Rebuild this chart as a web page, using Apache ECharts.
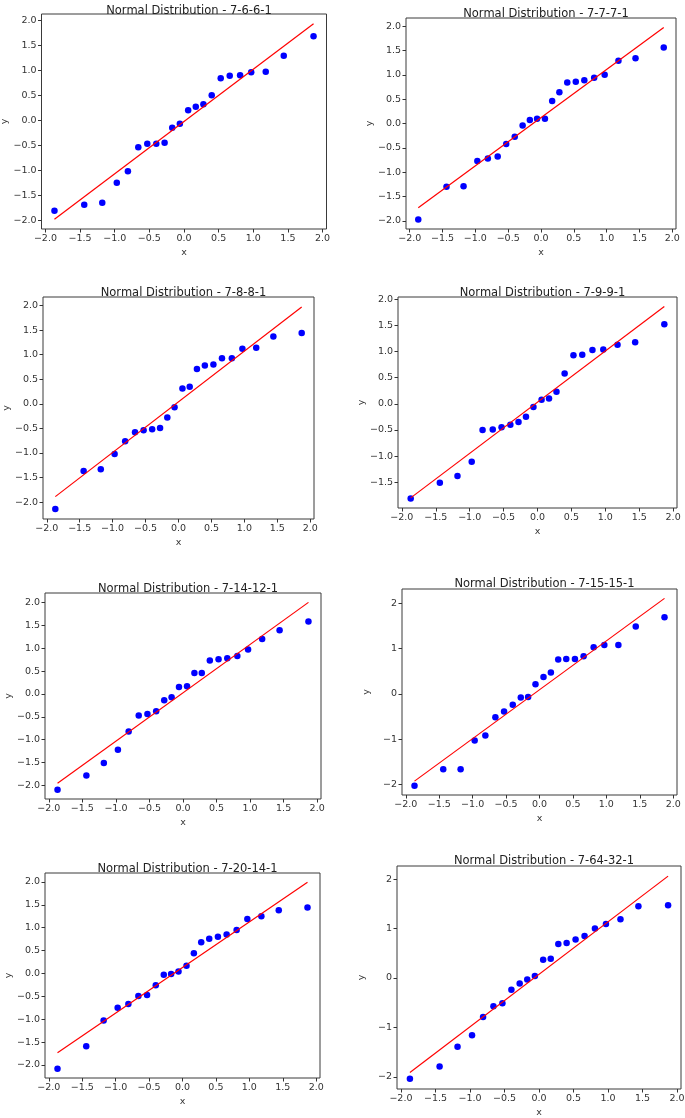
<!DOCTYPE html>
<html>
<head>
<meta charset="utf-8">
<script src="https://cdn.jsdelivr.net/npm/echarts@6/dist/echarts.min.js"></script>
<style>
  html, body { margin: 0; padding: 0; background: #fff; }
  #main { width: 685px; height: 1118px; }
</style>
</head>
<body>
<div id="main"></div>
<script>
// theoretical quantiles (x) shared by every panel
const xq = [-1.87, -1.44, -1.18, -0.97, -0.81, -0.66, -0.53, -0.40, -0.28, -0.17, -0.06,
  0.06, 0.17, 0.28, 0.40, 0.53, 0.66, 0.81, 0.97, 1.18, 1.44, 1.87];

const titles = ['7-6-6-1', '7-7-7-1', '7-8-8-1', '7-9-9-1', '7-14-12-1', '7-15-15-1', '7-20-14-1', '7-64-32-1'];

// ordered sample values (y) per panel
const y_7_6_6_1 = [-1.81, -1.69, -1.65, -1.25, -1.02, -0.54, -0.47, -0.47, -0.45, -0.15, -0.07,
  0.20, 0.27, 0.32, 0.50, 0.84, 0.89, 0.90, 0.96, 0.97, 1.29, 1.68];
const y_7_7_7_1 = [-1.97, -1.30, -1.29, -0.77, -0.72, -0.68, -0.42, -0.27, -0.04, 0.07, 0.10,
  0.10, 0.46, 0.64, 0.84, 0.86, 0.89, 0.94, 1.00, 1.29, 1.34, 1.56];
const y_7_8_8_1 = [-2.14, -1.37, -1.33, -1.02, -0.76, -0.58, -0.54, -0.52, -0.49, -0.28, -0.07,
  0.31, 0.35, 0.71, 0.78, 0.80, 0.93, 0.93, 1.12, 1.14, 1.37, 1.44];
const y_7_9_9_1 = [-1.81, -1.51, -1.38, -1.11, -0.50, -0.49, -0.45, -0.40, -0.35, -0.25, -0.06,
  0.08, 0.10, 0.23, 0.58, 0.93, 0.94, 1.03, 1.04, 1.13, 1.18, 1.52];
const y_7_14_12_1 = [-2.09, -1.78, -1.51, -1.22, -0.82, -0.47, -0.44, -0.38, -0.14, -0.07, 0.15,
  0.17, 0.46, 0.46, 0.73, 0.76, 0.78, 0.83, 0.97, 1.20, 1.39, 1.58];
const y_7_15_15_1 = [-2.03, -1.67, -1.67, -1.03, -0.92, -0.52, -0.39, -0.24, -0.08, -0.07, 0.21,
  0.37, 0.47, 0.76, 0.77, 0.77, 0.83, 1.03, 1.08, 1.08, 1.49, 1.69];
const y_7_20_14_1 = [-2.08, -1.59, -1.03, -0.75, -0.67, -0.49, -0.47, -0.26, -0.03, -0.01, 0.04,
  0.17, 0.44, 0.68, 0.76, 0.80, 0.85, 0.95, 1.19, 1.25, 1.38, 1.44];
const y_7_64_32_1 = [-2.04, -1.79, -1.39, -1.16, -0.79, -0.57, -0.51, -0.24, -0.11, -0.03, 0.04,
  0.37, 0.39, 0.69, 0.71, 0.78, 0.85, 1.00, 1.09, 1.19, 1.45, 1.47];

const panelY = [y_7_6_6_1, y_7_7_7_1, y_7_8_8_1, y_7_9_9_1, y_7_14_12_1, y_7_15_15_1, y_7_20_14_1, y_7_64_32_1];

// fitted line values at x = -1.87 and x = 1.87
const lineStart = [-1.98, -1.73, -1.89, -1.80, -1.95, -1.93, -1.73, -1.91];
const lineEnd = [1.93, 1.97, 1.97, 1.86, 2.00, 2.11, 1.99, 2.06];

const xTicks = [-2, -1.5, -1, -0.5, 0, 0.5, 1, 1.5, 2];
const yStep = [0.5, 0.5, 0.5, 0.5, 0.5, 1, 0.5, 1];

// plot boxes [left, top, width, height]
const boxes = [
  [41.5, 14, 285, 215],
  [406, 18, 270, 211],
  [43, 297, 271, 222],
  [398, 297, 279, 211],
  [45, 593, 276, 206],
  [402, 589, 275, 206],
  [45, 873, 275, 205],
  [397, 866, 284, 223]
];
const titleTop = [0, 3, 282, 282, 578, 573, 858, 850];

const fmt = (v, step) => {
  const s = step < 1 ? v.toFixed(1) : v.toFixed(0);
  return s.replace('-', '\u2212');
};

const font = 'DejaVu Sans';
const grid = [], xAxis = [], yAxis = [], series = [], title = [];

panelY.forEach((ys, i) => {
  const b = boxes[i];
  grid.push({
    left: b[0], top: b[1], width: b[2], height: b[3],
    show: true, borderColor: '#3a3a3a', borderWidth: 1,
    backgroundColor: 'transparent', outerBoundsMode: 'none'
  });
  title.push({
    text: 'Normal Distribution - ' + titles[i],
    left: b[0] + b[2] / 2, top: titleTop[i], textAlign: 'center',
    textStyle: { fontFamily: font, fontSize: 11.5, fontWeight: 'normal', color: '#222' }
  });

  // matplotlib-like 5% margins
  const xmin = xq[0], xmax = xq[xq.length - 1];
  const xm = (xmax - xmin) * 0.05;
  const lo = Math.min(...ys, lineStart[i], lineEnd[i]);
  const hi = Math.max(...ys, lineStart[i], lineEnd[i]);
  const ym = (hi - lo) * 0.05;
  const yMin = lo - ym, yMax = hi + ym;
  const st = yStep[i];
  const yTicks = [];
  for (let k = Math.ceil(yMin / st); k * st <= yMax; k++) yTicks.push(k * st);

  xAxis.push({
    type: 'value', gridIndex: i, min: xmin - xm, max: xmax + xm,
    name: 'x', nameLocation: 'middle', nameGap: 19,
    nameTextStyle: { fontFamily: font, fontSize: 9.5, color: '#333' },
    axisLine: { show: false, onZero: false },
    axisTick: { show: true, inside: false, length: 3.5, customValues: xTicks, lineStyle: { color: '#333' } },
    axisLabel: {
      customValues: xTicks, margin: 5, fontFamily: font, fontSize: 9.5, color: '#333',
      formatter: v => fmt(v, 0.5)
    },
    splitLine: { show: false }
  });
  yAxis.push({
    type: 'value', gridIndex: i, min: yMin, max: yMax,
    name: 'y', nameLocation: 'middle', nameGap: 30,
    nameTextStyle: { fontFamily: font, fontSize: 9.5, color: '#333' },
    axisLine: { show: false, onZero: false },
    axisTick: { show: true, inside: false, length: 3.5, customValues: yTicks, lineStyle: { color: '#333' } },
    axisLabel: {
      customValues: yTicks, margin: 5, fontFamily: font, fontSize: 9.5, color: '#333',
      formatter: v => fmt(v, st)
    },
    splitLine: { show: false }
  });

  series.push({
    type: 'scatter', xAxisIndex: i, yAxisIndex: i,
    data: xq.map((x, j) => [x, ys[j]]),
    symbolSize: 6.5, itemStyle: { color: '#0000ff', opacity: 1 },
    silent: true
  });
  series.push({
    type: 'line', xAxisIndex: i, yAxisIndex: i,
    data: [[xmin, lineStart[i]], [xmax, lineEnd[i]]],
    showSymbol: false, symbol: 'none',
    lineStyle: { color: '#ff0000', width: 1.2 },
    silent: true
  });
});

const chart = echarts.init(document.getElementById('main'), null, { renderer: 'canvas' });
chart.setOption({
  animation: false,
  backgroundColor: '#fff',
  title: title,
  grid: grid,
  xAxis: xAxis,
  yAxis: yAxis,
  series: series
});
</script>
</body>
</html>
